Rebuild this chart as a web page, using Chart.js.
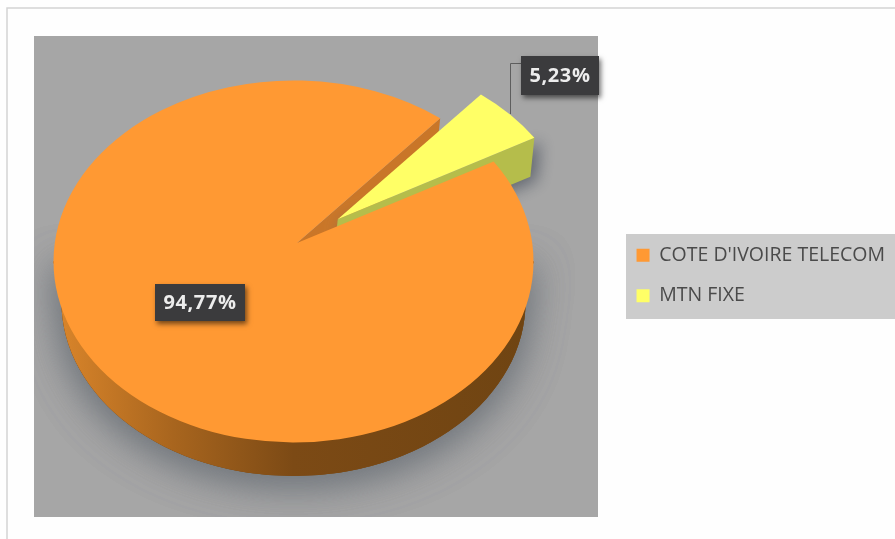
<!DOCTYPE html>
<html>
<head>
<meta charset="utf-8">
<style>
  html, body { margin: 0; padding: 0; background: #fff; }
  #wrap { position: relative; width: 895px; height: 539px; }
</style>
<script src="https://cdn.jsdelivr.net/npm/chart.js@4"></script>
</head>
<body>
<div id="wrap"><canvas id="chart" width="895" height="539"></canvas></div>
<script>
// Market share of fixed-line operators
const categories = ["COTE D'IVOIRE TELECOM", "MTN FIXE"];
const shares = [94.77, 5.23];
const sliceColors = ['#FF9933', '#FFFF66'];
const sliceOffsets = [0, 70];

// Pie geometry on the page: top face, base face and the perspective apex
const top3d = { cx: 293.5, cy: 261.5, rx: 240, ry: 181, apexX: 297, apexY: 243 };
const base3d = { cx: 293.5, cy: 302, rx: 232, ry: 174 };
const wallDrop = { x: -4, y: 39 };
const explodeX = 0.75;
const explodeY = 0.47;
const plotRect = { x: 34, y: 36, w: 564, h: 481 };
const legendRect = { x: 626, y: 234, w: 269, h: 85 };
const LABEL_FONT = 'bold 20px "Open Sans"';

const formatShare = v => v.toFixed(2).replace('.', ',') + '%';

// Ellipse point for a pie angle
const rimPoint = (a, dx = 0, dy = 0) => ({
  x: top3d.cx + top3d.rx * Math.cos(a) + dx,
  y: top3d.cy + top3d.ry * Math.sin(a) + dy
});

// Screen displacement of an exploded slice, from the offset given to the controller
function sliceShift(el) {
  const mid = (el.startAngle + el.endAngle) / 2;
  const k = (el.options.offset || 0) * top3d.rx / el.outerRadius;
  return { x: Math.cos(mid) * k * explodeX, y: Math.sin(mid) * k * explodeY };
}

function topFacePath(ctx, el, s) {
  ctx.beginPath();
  ctx.moveTo(top3d.apexX + s.x, top3d.apexY + s.y);
  ctx.ellipse(top3d.cx + s.x, top3d.cy + s.y, top3d.rx, top3d.ry, 0, el.startAngle, el.endAngle);
  ctx.closePath();
}

function drawLabelBox(ctx, text, box) {
  ctx.save();
  ctx.shadowColor = 'rgba(0,0,0,0.55)';
  ctx.shadowBlur = 5;
  ctx.shadowOffsetX = 2;
  ctx.shadowOffsetY = 3;
  ctx.fillStyle = '#3B3B3D';
  ctx.fillRect(box.x, box.y, box.w, box.h);
  ctx.restore();
  ctx.save();
  ctx.fillStyle = '#EDEDED';
  ctx.font = LABEL_FONT;
  ctx.letterSpacing = '0.6px';
  ctx.textAlign = 'center';
  ctx.textBaseline = 'middle';
  ctx.fillText(text, box.x + box.w / 2, box.y + box.h / 2 + 1);
  ctx.restore();
}

const pie3dPlugin = {
  id: 'pie3d',
  beforeDraw(chart) {
    const ctx = chart.ctx;
    ctx.save();
    ctx.fillStyle = '#FEFEFE';
    ctx.fillRect(0, 0, 895, 539);
    // outer chart frame
    ctx.strokeStyle = '#D4D4D4';
    ctx.lineWidth = 1.5;
    ctx.strokeRect(7, 8, 900, 540);
    // plot background
    ctx.fillStyle = '#A6A6A6';
    ctx.fillRect(plotRect.x, plotRect.y, plotRect.w, plotRect.h);
    // legend panel
    ctx.fillStyle = '#CCCCCC';
    ctx.fillRect(legendRect.x, legendRect.y, legendRect.w, legendRect.h);
    ctx.restore();
  },
  // the arcs are painted as a tilted solid from the geometry computed by the pie controller
  beforeDatasetDraw(chart, args) {
    const ctx = chart.ctx;
    const [main, small] = args.meta.data;
    const smallShift = sliceShift(small);

    ctx.save();
    ctx.beginPath();
    ctx.rect(plotRect.x, plotRect.y, plotRect.w, plotRect.h);
    ctx.clip();

    const sidePath = () => {
      ctx.beginPath();
      ctx.moveTo(top3d.cx - top3d.rx, top3d.cy);
      ctx.lineTo(base3d.cx - base3d.rx, base3d.cy);
      ctx.ellipse(base3d.cx, base3d.cy, base3d.rx, base3d.ry, 0, Math.PI, 0, true);
      ctx.lineTo(top3d.cx + top3d.rx, top3d.cy);
      ctx.closePath();
    };

    // soft shadow below the solid
    ctx.save();
    ctx.shadowColor = 'rgba(108,114,120,0.75)';
    ctx.shadowBlur = 38;
    ctx.shadowOffsetX = 0;
    ctx.shadowOffsetY = 7;
    ctx.fillStyle = '#7C4A15';
    sidePath();
    ctx.fill();
    ctx.fill();
    ctx.restore();

    // rounded side of the large slice
    const side = ctx.createLinearGradient(top3d.cx - top3d.rx, 0, top3d.cx + top3d.rx, 0);
    side.addColorStop(0, '#DB862B');
    side.addColorStop(0.25, '#A8651E');
    side.addColorStop(0.5, '#7C4A15');
    side.addColorStop(1, '#6F4412');
    ctx.fillStyle = side;
    sidePath();
    ctx.fill();

    // cut wall of the large slice, seen through the notch
    const p1 = rimPoint(main.endAngle);
    ctx.fillStyle = '#C97628';
    ctx.beginPath();
    ctx.moveTo(top3d.apexX, top3d.apexY);
    ctx.lineTo(p1.x, p1.y);
    ctx.lineTo(p1.x + wallDrop.x, p1.y + wallDrop.y);
    ctx.lineTo(top3d.apexX + wallDrop.x, top3d.apexY + wallDrop.y);
    ctx.closePath();
    ctx.fill();

    // wall of the pulled-out slice
    const q = rimPoint(small.endAngle, smallShift.x, smallShift.y);
    const ax = top3d.apexX + smallShift.x;
    const ay = top3d.apexY + smallShift.y;
    ctx.save();
    ctx.shadowColor = 'rgba(95,100,110,0.95)';
    ctx.shadowBlur = 16;
    ctx.shadowOffsetX = 6;
    ctx.shadowOffsetY = 4;
    ctx.fillStyle = '#B5BD4B';
    ctx.beginPath();
    ctx.moveTo(ax, ay);
    ctx.lineTo(q.x, q.y);
    ctx.lineTo(q.x + wallDrop.x, q.y + wallDrop.y);
    ctx.lineTo(ax + wallDrop.x, ay + wallDrop.y);
    ctx.closePath();
    ctx.fill();
    ctx.restore();

    // top faces
    ctx.fillStyle = main.options.backgroundColor;
    topFacePath(ctx, main, { x: 0, y: 0 });
    ctx.fill();
    ctx.fillStyle = small.options.backgroundColor;
    topFacePath(ctx, small, smallShift);
    ctx.fill();
    ctx.restore();
    return false;
  },
  afterDatasetsDraw(chart) {
    const ctx = chart.ctx;
    // leader line of the small slice label
    ctx.save();
    ctx.strokeStyle = '#5E5E5E';
    ctx.lineWidth = 1;
    ctx.beginPath();
    ctx.moveTo(521, 63.5);
    ctx.lineTo(510.5, 63.5);
    ctx.lineTo(510.5, 114);
    ctx.stroke();
    drawLabelBox(ctx, formatShare(shares[1]), { x: 521, y: 56, w: 78, h: 39 });
    drawLabelBox(ctx, formatShare(shares[0]), { x: 155, y: 284, w: 90, h: 37 });
    ctx.restore();
  }
};

new Chart(document.getElementById('chart'), {
  type: 'pie',
  data: {
    labels: categories,
    datasets: [{
      data: shares,
      backgroundColor: sliceColors,
      offset: sliceOffsets,
      borderWidth: 0
    }]
  },
  options: {
    responsive: false,
    animation: false,
    rotation: 56.5,
    layout: { padding: { top: 14, bottom: 2, left: 0, right: 0 } },
    plugins: {
      tooltip: { enabled: false },
      legend: {
        position: 'right',
        align: 'center',
        labels: {
          boxWidth: 13,
          boxHeight: 13,
          padding: 21,
          color: '#4A4A4A',
          font: { family: '"Open Sans"', size: 19.5 }
        }
      }
    }
  },
  plugins: [pie3dPlugin]
});
</script>
</body>
</html>
